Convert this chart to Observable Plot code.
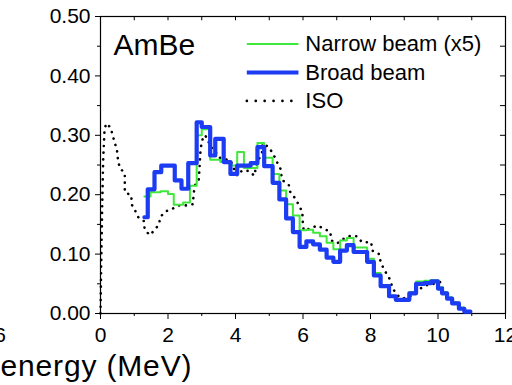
<!DOCTYPE html>
<html><head><meta charset="utf-8">
<script src="https://cdn.jsdelivr.net/npm/d3@7"></script>
<script src="https://cdn.jsdelivr.net/npm/@observablehq/plot@0.6"></script>
<style>
body{margin:0;background:#fff;}
#chart svg{display:block;}
</style>
</head><body><div id="chart"></div>
<script>
// ---- data ----
const broadEdges = [1.30,1.40,1.60,1.80,2.20,2.40,2.60,2.85,3.00,3.25,3.40,3.65,3.85,4.05,4.45,4.65,4.85,5.10,5.30,5.50,5.70,5.90,6.10,6.30,6.50,6.70,6.90,7.10,7.30,7.50,7.90,8.10,8.30,8.55,8.75,9.15,9.35,9.60,9.80,10.00,10.12,10.27,10.42,10.62,10.78,10.96];
const broadValues = [0.162,0.209,0.238,0.249,0.224,0.210,0.253,0.322,0.314,0.266,0.294,0.255,0.235,0.249,0.253,0.280,0.248,0.220,0.192,0.160,0.137,0.112,0.1215,0.1165,0.1075,0.094,0.087,0.106,0.115,0.1035,0.087,0.064,0.046,0.029,0.023,0.034,0.050,0.051,0.054,0.042,0.034,0.025,0.017,0.008,0.003];
const narrowEdges = [1.30,1.48,1.78,2.00,2.17,2.45,2.65,2.85,3.00,3.25,3.55,3.85,4.05,4.25,4.65,4.85,5.10,5.30,5.50,5.70,5.90,6.10,6.30,6.50,6.70,6.90,7.10,7.30,7.50,7.90,8.10,8.30,8.55,8.75,9.15,9.35,9.60,9.80,10.00,10.12,10.27,10.42,10.62,10.78,10.96];
const narrowValues = [0.197,0.204,0.206,0.201,0.183,0.187,0.215,0.300,0.310,0.259,0.255,0.249,0.272,0.245,0.287,0.262,0.235,0.207,0.184,0.165,0.140,0.141,0.136,0.130,0.119,0.108,0.123,0.127,0.111,0.092,0.068,0.048,0.030,0.024,0.036,0.054,0.055,0.056,0.044,0.036,0.027,0.019,0.010,0.004];
const isoEnergy = [0,0.02,0.05,0.08,0.12,0.17,0.30,0.37,0.49,0.52,0.57,0.72,0.72,0.91,0.93,1.02,1.12,1.28,1.31,1.46,1.61,1.73,1.78,1.93,2.12,2.32,2.54,2.74,2.76,2.80,2.91,2.93,2.96,2.99,3.06,3.15,3.26,3.36,3.50,3.65,3.85,3.95,4.05,4.20,4.39,4.56,4.62,4.79,4.80,4.99,5.14,5.20,5.33,5.38,5.58,5.62,5.78,5.98,5.99,6.02,6.22,6.42,6.62,6.81,6.84,7.01,7.21,7.41,7.60,7.75,8.02,8.05,8.25,8.30,8.40,8.50,8.59,8.65,8.79,8.94,9.14,9.33,9.48,9.68,9.88,10.07,10.17,10.32,10.50,10.72,10.91];
const isoValues = [0,0.08,0.18,0.26,0.31,0.32,0.313,0.298,0.274,0.258,0.245,0.236,0.204,0.199,0.183,0.174,0.162,0.156,0.141,0.132,0.141,0.150,0.163,0.172,0.176,0.182,0.182,0.184,0.202,0.216,0.224,0.241,0.272,0.286,0.300,0.297,0.280,0.277,0.263,0.260,0.258,0.244,0.232,0.241,0.240,0.232,0.250,0.272,0.286,0.280,0.266,0.258,0.244,0.225,0.216,0.205,0.193,0.171,0.157,0.140,0.143,0.148,0.143,0.137,0.123,0.118,0.126,0.131,0.130,0.120,0.120,0.106,0.100,0.087,0.074,0.065,0.056,0.043,0.031,0.025,0.028,0.034,0.042,0.048,0.050,0.053,0.039,0.031,0.020,0.006,0.001];
const xMajorTicks = [0,2,4,6,8,10,12];
const xMinorTicks = [1,3,5,7,9,11];
const yMajorTicks = [0,0.1,0.2,0.3,0.4,0.5];
const yMinorTicks = [0.05,0.15,0.25,0.35,0.45];
const seriesNames = ["Narrow beam (x5)","Broad beam","ISO"];
const panelLabel = "AmBe";
const axisTitle = "energy (MeV)";
const cutTickLabel = "6";

// ---- styles ----
const GREEN = "#3fe83a", BLUE = "#1b3cf2", BLACK = "#000";
const FONT = "'Liberation Sans', Arial, sans-serif";

function steps(edges, values, name) {
  const pts = values.map((v, i) => ({x: edges[i], y: v, s: name}));
  pts.push({x: edges[edges.length - 1], y: values[values.length - 1], s: name});
  return pts;
}
const broad = steps(broadEdges, broadValues, seriesNames[1]);
const narrow = steps(narrowEdges, narrowValues, seriesNames[0]);
const iso = isoEnergy.map((e, i) => ({x: e, y: isoValues[i]}));

// legend layout (data units)
const legX1 = 4.35, legX2 = 5.88, legTextX = 6.07, legTop = 0.4535, legStep = 0.0478;
const legend = seriesNames.map((n, i) => ({name: n, y: legTop - i * legStep, i}));
const legendStyles = [
  {stroke: GREEN, strokeWidth: 2},
  {stroke: BLUE, strokeWidth: 4.2},
  {stroke: BLACK, strokeWidth: 2.6, strokeDasharray: "0.1 8.8", strokeLinecap: "round"}
];

const allXTicks = d3.range(0, 13, 1);
const allYTicks = d3.range(0, 0.5001, 0.05);

const chart = Plot.plot({
  width: 512,
  height: 385,
  marginLeft: 100,
  marginRight: 7,
  marginTop: 16,
  marginBottom: 72,
  style: {fontFamily: FONT, fontSize: "21px", color: "#000", background: "#fff"},
  x: {domain: [0, 12], label: null},
  y: {domain: [0, 0.5], label: null},
  marks: [
    Plot.frame({stroke: BLACK, strokeWidth: 1.2}),
    Plot.axisX({ticks: xMajorTicks, tickSize: 6, tickPadding: 8, tickFormat: d => String(d), fontSize: 21, label: null}),
    Plot.axisX({ticks: xMinorTicks, tickSize: 3, tickFormat: () => "", label: null}),
    Plot.axisY({ticks: yMajorTicks, tickSize: 5, tickPadding: 5, tickFormat: d3.format(".2f"), fontSize: 21, label: null}),
    Plot.axisY({ticks: yMinorTicks, tickSize: 3, tickFormat: () => "", label: null}),
    // inward ticks on top and right borders
    Plot.ruleX(allXTicks, {x: d => d, y1: 0.5, y2: 0.5 - 0.0072, stroke: BLACK}),
    Plot.ruleY(allYTicks, {y: d => d, x1: 12, x2: 12 - 0.15, stroke: BLACK}),
    // ISO dotted
    Plot.line(iso, {x: "x", y: "y", stroke: BLACK, strokeWidth: 2.6, strokeDasharray: "0.1 6.6", strokeLinecap: "round", curve: "linear"}),
    // narrow beam (x5)
    Plot.line(narrow, {x: "x", y: "y", stroke: GREEN, strokeWidth: 2, curve: "step-after"}),
    // broad beam
    Plot.line(broad, {x: "x", y: "y", stroke: BLUE, strokeWidth: 4.2, curve: "step-after"}),
    // legend
    ...legend.map(d => Plot.ruleY([d], {y: "y", x1: legX1, x2: legX2, ...legendStyles[d.i]})),
    Plot.text(legend, {x: legTextX, y: "y", text: "name", textAnchor: "start", lineAnchor: "middle", fontSize: 22, fill: BLACK}),
    Plot.text([panelLabel], {x: 0.385, y: 0.452, text: d => d, textAnchor: "start", lineAnchor: "middle", fontSize: 30, fill: BLACK}),
    // cut-off pieces of the neighbouring figure
    Plot.text([cutTickLabel], {frameAnchor: "bottom-left", text: d => d, dx: -94.5, dy: 14, textAnchor: "end", lineAnchor: "top", fontSize: 21, fill: BLACK}),
    Plot.text([axisTitle], {frameAnchor: "bottom-left", text: d => d, dx: -100, dy: 62, textAnchor: "start", lineAnchor: "bottom", fontSize: 30, fill: BLACK})
  ]
});
d3.select(chart).selectAll("text").filter(function () { return this.textContent === axisTitle; })
  .attr("textLength", 191).attr("lengthAdjust", "spacing");
document.getElementById("chart").appendChild(chart);
</script>
</body></html>
